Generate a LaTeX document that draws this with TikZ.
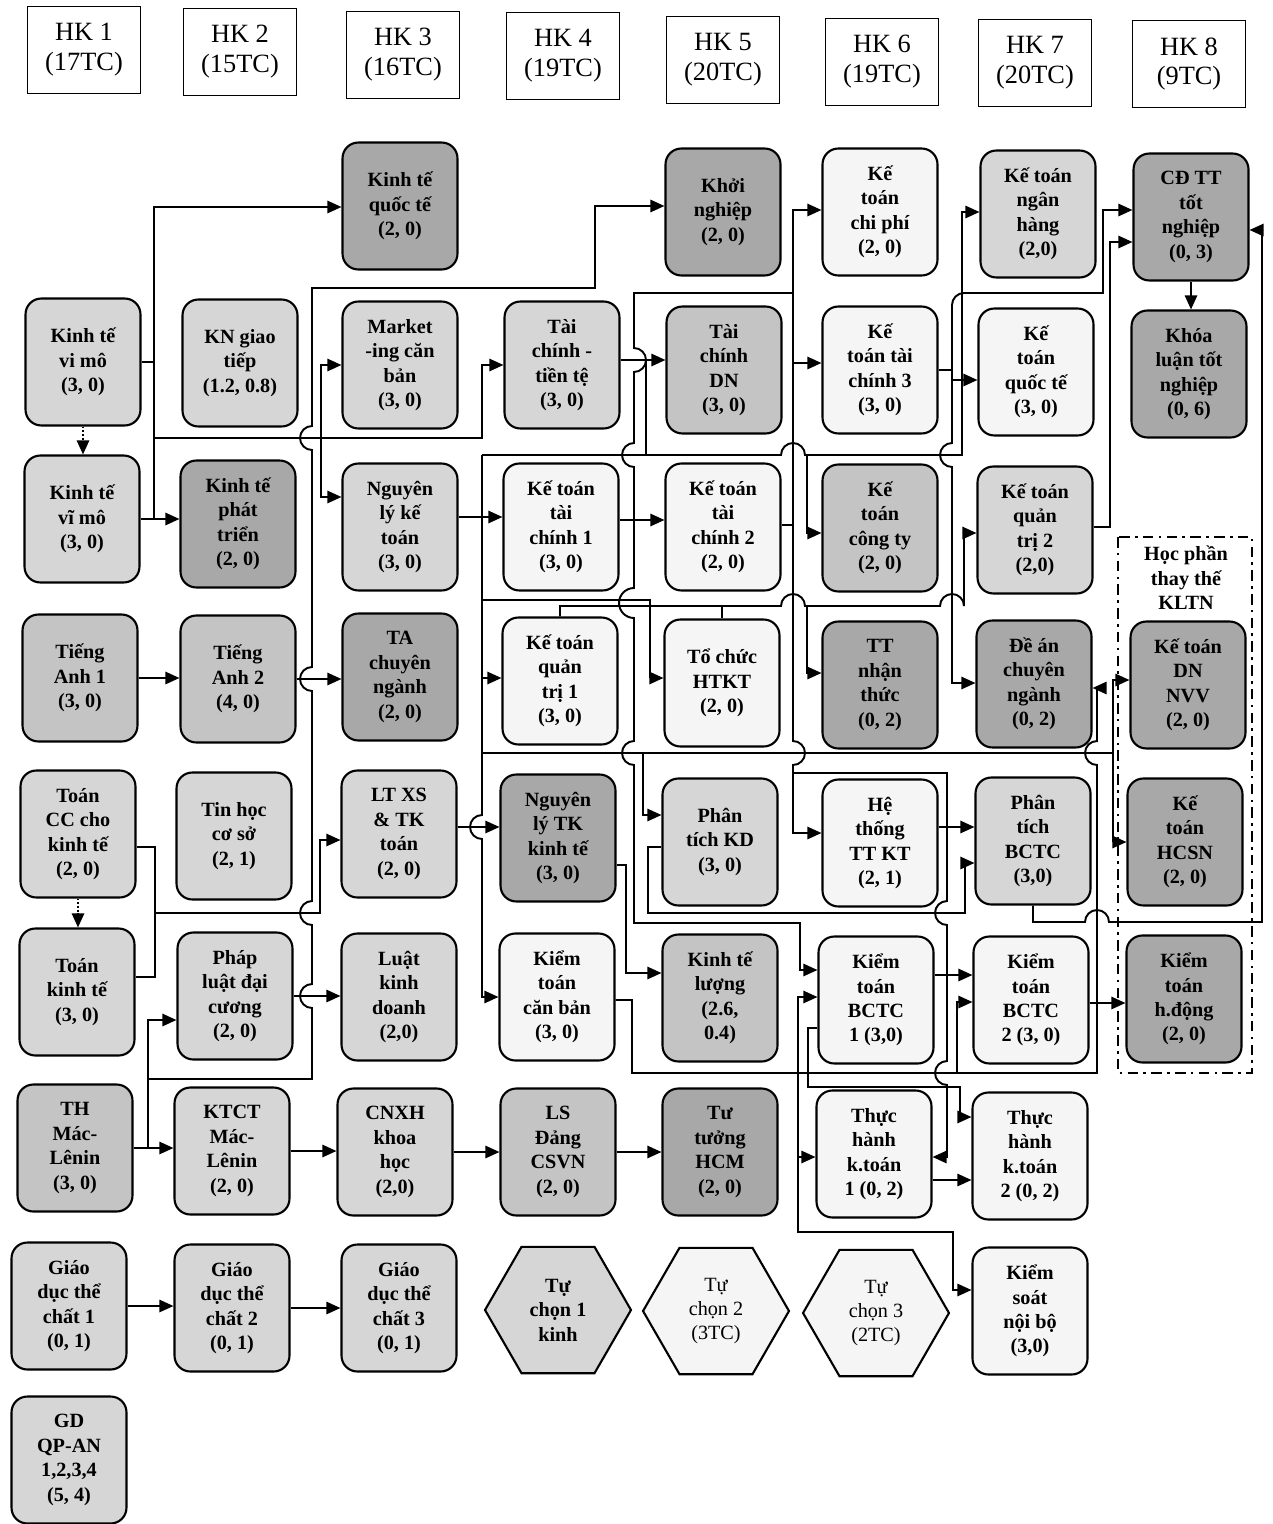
\documentclass[tikz,border=0pt]{standalone}
\usepackage{fontspec}
\setmainfont{Liberation Serif}
\usetikzlibrary{arrows.meta,shapes.geometric}
\definecolor{pale}{gray}{0.96}
\definecolor{lite}{gray}{0.84}
\definecolor{midg}{gray}{0.77}
\definecolor{deep}{gray}{0.66}

\begin{document}
\begin{tikzpicture}[x=0.02cm, y=-0.02cm,
  ln/.style={line width=1.1pt},
  ar/.style={ln, -{Triangle[length=8pt,width=7pt]}},
  dar/.style={ar, densely dotted},
  course/.style={draw, line width=1.2pt, rounded corners=9pt, minimum width=2.3cm,
                 minimum height=2.54cm, align=center, inner sep=2pt,
                 font=\bfseries\fontsize{11.5}{13.9}\selectfont},
  wbox/.style={course, fill=pale},
  lbox/.style={course, fill=lite},
  mbox/.style={course, fill=midg},
  dbox/.style={course, fill=deep},
  hexbox/.style={draw, line width=1.2pt, regular polygon, regular polygon sides=6,
                 minimum size=2.92cm, inner sep=0pt, align=center,
                 font=\bfseries\fontsize{11.5}{13.9}\selectfont},
  hkbox/.style={draw, line width=1pt, minimum width=2.26cm, minimum height=1.74cm,
                align=center, font=\fontsize{15}{17}\selectfont},
  hopdl/.style={insert path={arc[start angle=90,end angle=270,radius=0.24cm]}},
  hopdlb/.style={insert path={arc[start angle=90,end angle=270,radius=0.3cm]}},
  hopdr/.style={insert path={arc[start angle=90,end angle=-90,radius=0.24cm]}},
  hopul/.style={insert path={arc[start angle=270,end angle=90,radius=0.24cm]}},
  hopr/.style={insert path={arc[start angle=180,end angle=0,radius=0.24cm]}}
]
\path[use as bounding box, fill=white] (0,0) rectangle (1273,1524);

% semesters
\node[hkbox] (hk1) at (84,50) {HK 1\\(17TC)};
\node[hkbox] (hk2) at (240,52) {HK 2\\(15TC)};
\node[hkbox] (hk3) at (403,55) {HK 3\\(16TC)};
\node[hkbox] (hk4) at (563,56) {HK 4\\(19TC)};
\node[hkbox] (hk5) at (723,60) {HK 5\\(20TC)};
\node[hkbox] (hk6) at (882,62) {HK 6\\(19TC)};
\node[hkbox] (hk7) at (1035,63) {HK 7\\(20TC)};
\node[hkbox] (hk8) at (1189,64) {HK 8\\(9TC)};

% courses
\node[dbox] (ktqt) at (400,206) {Kinh tế\\quốc tế\\(2, 0)};
\node[dbox] (kn) at (723,212) {Khởi\\nghiệp\\(2, 0)};
\node[wbox] (ktcp) at (880,212) {Kế\\toán\\chi phí\\(2, 0)};
\node[lbox] (ktnh) at (1038,214) {Kế toán\\ngân\\hàng\\(2,0)};
\node[dbox] (cdtt) at (1191,217) {CĐ TT\\tốt\\nghiệp\\(0, 3)};

\node[lbox] (kvm) at (83,362) {Kinh tế\\vi mô\\(3, 0)};
\node[lbox] (kngt) at (240,363) {KN giao\\tiếp\\(1.2, 0.8)};
\node[lbox] (mkt) at (400,365) {Market\\-ing căn\\bản\\(3, 0)};
\node[lbox] (tctt) at (562,365) {Tài\\chính -\\tiền tệ\\(3, 0)};
\node[mbox] (tcdn) at (724,370) {Tài\\chính\\DN\\(3, 0)};
\node[wbox] (kttc3) at (880,370) {Kế\\toán tài\\chính 3\\(3, 0)};
\node[wbox] (ktqte) at (1036,372) {Kế\\toán\\quốc tế\\(3, 0)};
\node[dbox] (kltn) at (1189,374) {Khóa\\luận tốt\\nghiệp\\(0, 6)};

\node[lbox] (kvimo) at (82,519) {Kinh tế\\vĩ mô\\(3, 0)};
\node[dbox] (ktpt) at (238,524) {Kinh tế\\phát\\triển\\(2, 0)};
\node[lbox] (nlkt) at (400,527) {Nguyên\\lý kế\\toán\\(3, 0)};
\node[wbox] (kttc1) at (561,527) {Kế toán\\tài\\chính 1\\(3, 0)};
\node[wbox] (kttc2) at (723,527) {Kế toán\\tài\\chính 2\\(2, 0)};
\node[mbox] (ktcty) at (880,528) {Kế\\toán\\công ty\\(2, 0)};
\node[lbox] (ktqt2) at (1035,530) {Kế toán\\quản\\trị 2\\(2,0)};

\node[mbox] (ta1) at (80,678) {Tiếng\\Anh 1\\(3, 0)};
\node[mbox] (ta2) at (238,679) {Tiếng\\Anh 2\\(4, 0)};
\node[dbox] (tacn) at (400,677) {TA\\chuyên\\ngành\\(2, 0)};
\node[wbox] (ktqt1) at (560,681) {Kế toán\\quản\\trị 1\\(3, 0)};
\node[wbox] (tchtkt) at (722,683) {Tổ chức\\HTKT\\(2, 0)};
\node[dbox] (ttnt) at (880,685) {TT\\nhận\\thức\\(0, 2)};
\node[dbox] (dacn) at (1034,684) {Đề án\\chuyên\\ngành\\(0, 2)};
\node[dbox] (ktdn) at (1188,685) {Kế toán\\DN\\NVV\\(2, 0)};

\node[lbox] (toancc) at (78,834) {Toán\\CC cho\\kinh tế\\(2, 0)};
\node[lbox] (tinhoc) at (234,836) {Tin học\\cơ sở\\(2, 1)};
\node[lbox] (ltxs) at (399,834) {LT XS\\\& TK\\toán\\(2, 0)};
\node[dbox] (nltk) at (558,838) {Nguyên\\lý TK\\kinh tế\\(3, 0)};
\node[lbox] (ptkd) at (720,842) {Phân\\tích KD\\(3, 0)};
\node[wbox] (httt) at (880,843) {Hệ\\thống\\TT KT\\(2, 1)};
\node[lbox] (ptbctc) at (1033,841) {Phân\\tích\\BCTC\\(3,0)};
\node[dbox] (kthcsn) at (1185,842) {Kế\\toán\\HCSN\\(2, 0)};

\node[lbox] (toankt) at (77,992) {Toán\\kinh tế\\(3, 0)};
\node[lbox] (pldc) at (235,996) {Pháp\\luật đại\\cương\\(2, 0)};
\node[lbox] (lkd) at (399,997) {Luật\\kinh\\doanh\\(2,0)};
\node[wbox] (ktcb) at (557,997) {Kiểm\\toán\\căn bản\\(3, 0)};
\node[mbox] (ktl) at (720,998) {Kinh tế\\lượng\\(2.6,\\0.4)};
\node[wbox] (ktbctc1) at (876,1000) {Kiểm\\toán\\BCTC\\1 (3,0)};
\node[wbox] (ktbctc2) at (1031,1000) {Kiểm\\toán\\BCTC\\2 (3, 0)};
\node[dbox] (kthd) at (1184,999) {Kiểm\\toán\\h.động\\(2, 0)};

\node[mbox] (thmac) at (75,1148) {TH\\Mác-\\Lênin\\(3, 0)};
\node[lbox] (ktct) at (232,1151) {KTCT\\Mác-\\Lênin\\(2, 0)};
\node[lbox] (cnxh) at (395,1152) {CNXH\\khoa\\học\\(2,0)};
\node[mbox] (lsd) at (558,1152) {LS\\Đảng\\CSVN\\(2, 0)};
\node[dbox] (tthcm) at (720,1152) {Tư\\tưởng\\HCM\\(2, 0)};
\node[wbox] (th1) at (874,1154) {Thực\\hành\\k.toán\\1 (0, 2)};
\node[wbox] (th2) at (1030,1156) {Thực\\hành\\k.toán\\2 (0, 2)};

\node[lbox] (gdtc1) at (69,1306) {Giáo\\dục thể\\chất 1\\(0, 1)};
\node[lbox] (gdtc2) at (232,1308) {Giáo\\dục thể\\chất 2\\(0, 1)};
\node[lbox] (gdtc3) at (399,1308) {Giáo\\dục thể\\chất 3\\(0, 1)};
\node[hexbox, fill=lite] (tc1) at (558,1310) {Tự\\chọn 1\\kinh};
\node[hexbox, fill=pale, font=\fontsize{11.5}{13.9}\selectfont] (tc2) at (716,1311) {Tự\\chọn 2\\(3TC)};
\node[hexbox, fill=pale, font=\fontsize{11.5}{13.9}\selectfont] (tc3) at (876,1313) {Tự\\chọn 3\\(2TC)};
\node[wbox] (ksnb) at (1030,1311) {Kiểm\\soát\\nội bộ\\(3,0)};

\node[lbox] (gdqp) at (69,1460) {GD\\QP-AN\\1,2,3,4\\(5, 4)};

% thesis substitutes
\node[align=center, font=\bfseries\fontsize{11.5}{13.9}\selectfont] (hptt) at (1186,578) {Học phần\\thay thế\\KLTN};
\draw[ln, dash pattern=on 6pt off 3pt on 1.5pt off 3pt] (1118,537) rectangle (1252,1073);

% micro / macro economics
\draw[dar] (kvm.south) -- (kvm.south |- kvimo.north);
\draw[ln] (kvm.east) -- (154,362);
\draw[ar] (154,519) |- (ktqt.west |- 0,207);
\draw[ar] (kvimo.east) -- (ktpt.west |- kvimo.east);
\draw[ar] (154,438) -| (482,365) -- (tctt.west);
\draw[ar] (321,438) |- (mkt.west);
\draw[ar] (321,438) |- (nlkt.west |- 0,497);

% political theory line
\draw[ar] (thmac.east) -- (ktct.west |- thmac.east);
\draw[ar] (148,1148) |- (pldc.west |- 0,1020);
\draw[ar] (148,1079) -- (312,1079) -- (312,1008) [hopul] -- (312,925) [hopul]
  -- (312,691) [hopul] -- (312,450) [hopul] -- (312,288) -| (595,206) -- (kn.west |- 0,206);

% languages, maths, law
\draw[ar] (ta1.east) -- (ta2.west |- ta1.east);
\draw[ar] (ta2.east) -- (tacn.west |- ta2.east);
\draw[dar] (toancc.south) -- (toancc.south |- toankt.north);
\draw[ln] (toancc.east |- 0,847) -| (155,977) -- (toankt.east |- 0,977);
\draw[ar] (155,913) -| (320,840) -- (ltxs.west |- 0,840);
\draw[ar] (pldc.east) -- (lkd.west |- pldc.east);
\draw[ar] (ktct.east) -- (cnxh.west |- ktct.east);
\draw[ar] (cnxh.east) -- (lsd.west |- cnxh.east);
\draw[ar] (lsd.east) -- (tthcm.west |- lsd.east);
\draw[ar] (gdtc1.east) -- (gdtc2.west |- gdtc1.east);
\draw[ar] (gdtc2.east) -- (gdtc3.west |- gdtc2.east);

% accounting principles
\draw[ar] (nlkt.east |- 0,517) -- (kttc1.west |- 0,517);
\draw[ar] (ltxs.east |- 0,827) -- (nltk.west |- 0,827);
\draw[ar] (482,455) -- (482,815) [hopdl] -- (482,997) -- (ktcb.west |- 0,997);
\draw[ar] (482,678) -- (ktqt1.west |- 0,678);
\draw[ar] (482,600) -| (650,678) -- (tchtkt.west |- 0,678);
\draw[ar] (482,753) -- (1085,753) -- (1113,753) |- (ktdn.west |- 0,680);
\draw[ar] (1113,753) |- (kthcsn.west |- 0,842);
\draw[ar] (643,753) |- (ptkd.west |- 0,815);
\draw[ar] (482,455) -- (781,455) [hopr] -- (962,455) |- (ktnh.west |- 0,212);
\draw[ar] (807,455) |- (ktcty.west |- 0,533);
\draw[ln] (tctt.east |- 0,360) -| (646,455);
\draw[ar] (646,360) -- (tcdn.west |- 0,360);

% financial accounting 2
\draw[ln] (kttc2.east |- 0,525) -- (793,525);
\draw[ar] (kttc1.east |- 0,520) -- (kttc2.west |- 0,520);
\draw[ar] (793,293) |- (ktcp.west |- 0,210);
\draw[ar] (793,363) -- (kttc3.west |- 0,363);
\draw[ar] (793,293) -- (793,741) [hopdr] -- (793,833) -- (httt.west |- 0,833);
\draw[ar] (793,293) -- (634,293) -- (634,348) [hopdr] -- (634,443) [hopdl]
  -- (634,588) [hopdlb] -- (634,741) [hopdl] -- (634,923) -| (800,970) -- (ktbctc1.west |- 0,970);
\draw[ar] (793,773) -- (947,773) -- (947,901) [hopdl] -- (947,1061) [hopdl]
  -- (947,1157) -- (th1.east |- 0,1157);
\draw[ar] (httt.east |- 0,827) -- (ptbctc.west |- 0,827);
\draw[ar] (ktbctc1.east |- 0,975) -- (ktbctc2.west |- 0,975);

% management accounting 1, HTKT
\draw[ln] (tchtkt.north) -- (722,606);
\draw[ar] (ktqt1.north) |- (781,606) [hopr] -- (940,606) [hopr] |- (ktqt2.west |- 0,533);
\draw[ar] (807,606) |- (ttnt.west |- 0,673);

% financial accounting 3
\draw[ln] (kttc3.east) -- (952,370);
\draw[ar] (952,305) arc[start angle=180,end angle=90,radius=0.24cm] -| (1103,210) -- (cdtt.west |- 0,210);
\draw[ar] (952,305) -- (952,443) [hopdl] -- (952,683) -- (dacn.west |- 0,683);
\draw[ar] (952,380) -- (ktqte.west |- 0,380);
\draw[ar] (ktqt2.east |- 0,527) -| (1110,242) -- (cdtt.west |- 0,242);
\draw[ar] (cdtt.south) -- (cdtt.south |- kltn.north);

% analysis and auditing
\draw[ar] (ptbctc.south) |- (1085,922) [hopr] -| (1262,230) -- (cdtt.east |- 0,230);
\draw[ar] (ptkd.west |- 0,847) -| (648,913) -| (965,863) -- (ptbctc.west |- 0,863);
\draw[ar] (nltk.east |- 0,865) -| (626,973) -- (ktl.west |- 0,973);
\draw[ar] (ktcb.east |- 0,1000) -| (632,1073) -- (1097,1073) -- (1097,765) [hopul]
  -- (1097,688) -- (dacn.east |- 0,688);
\draw[ar] (957,1073) |- (ktbctc2.west |- 0,1002);
\draw[ar] (798,1073) |- (ktbctc1.west |- 0,997);
\draw[ar] (798,1073) |- (th1.west |- 0,1157);
\draw[ar] (798,1157) |- (953,1232) |- (ksnb.west |- 0,1290);
\draw[ar] (ktbctc1.west |- 0,1028) -| (808,1087) -| (960,1117) -- (th2.west |- 0,1117);
\draw[ar] (th1.east |- 0,1180) -- (th2.west |- 0,1180);
\draw[ar] (ktbctc2.east |- 0,1003) -- (kthd.west |- 0,1003);

\end{tikzpicture}
\end{document}
